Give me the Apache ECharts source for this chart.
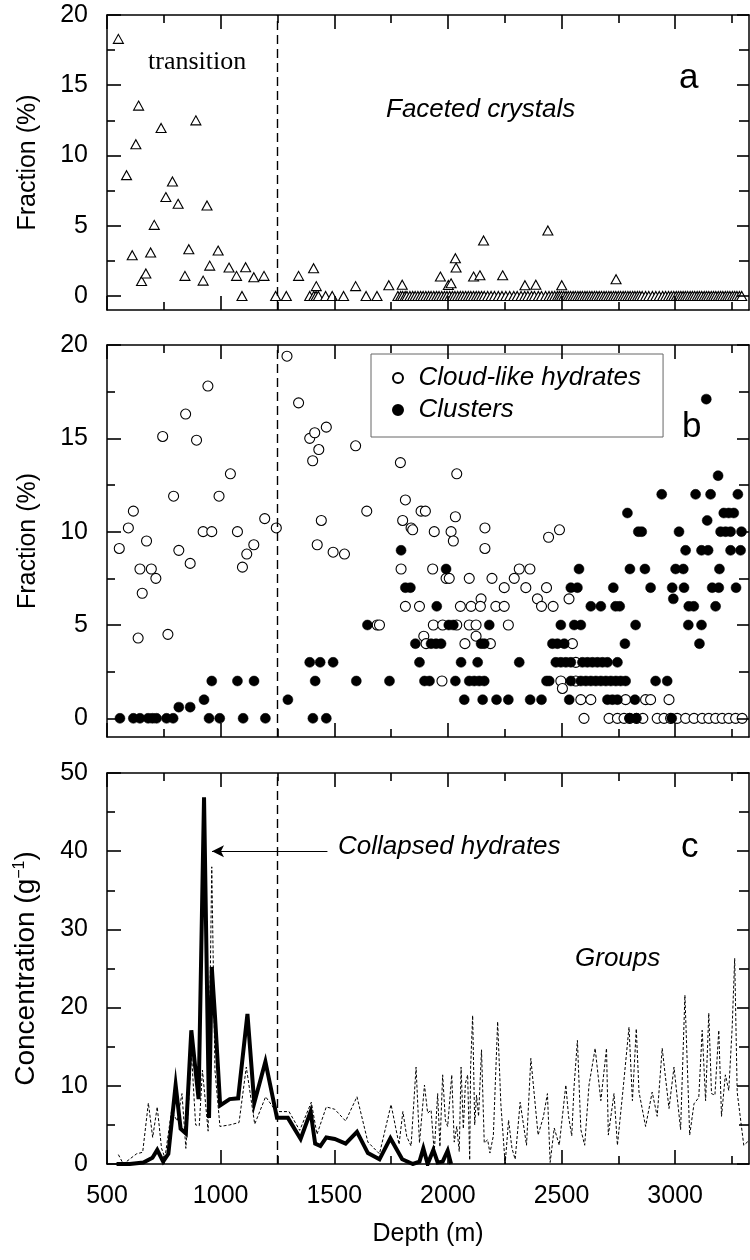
<!DOCTYPE html>
<html>
<head>
<meta charset="utf-8">
<script src="https://cdn.jsdelivr.net/npm/echarts@6/dist/echarts.min.js"></script>
<style>html,body{margin:0;padding:0;background:#fff}#chart{width:750px;height:1260px}</style>
</head>
<body>
<div id="chart"></div>
<script>
// ---------- DATA ----------
const xMajorTicks = [500, 1000, 1500, 2000, 2500, 3000];
const xMinorTicks = [750, 1250, 1750, 2250, 2750, 3250];
const fracMajorTicks = [0, 5, 10, 15, 20];
const fracMinorTicks = [2.5, 7.5, 12.5, 17.5];
const concMajorTicks = [0, 10, 20, 30, 40, 50];
const concMinorTicks = [5, 15, 25, 35, 45];
const transitionDepth = 1250;

// Panel a: faceted crystals (depth m, fraction %)
const facetedCrystals = [
  [550,18.3],[586,8.6],[611,2.9],[627,10.8],[639,13.55],[652,1.07],[671,1.6],[692,3.1],[708,5.06],
  [738,11.96],[759,7.04],[788,8.15],[813,6.56],[843,1.43],[860,3.33],[891,12.5],[923,1.09],[940,6.44],
  [952,2.16],[989,3.23],[1037,2.02],[1070,1.43],[1094,0],[1110,2.05],[1146,1.33],[1191,1.43],
  [1343,1.43],[1409,1.97],[1421,0.7],[1594,0.7],[1740,0.76],[1799,0.8],[1967,1.38],[2002,0.78],
  [2014,0.9],[2033,2.69],[2036,2.02],[2113,1.38],[2141,1.47],[2157,3.95],[2241,1.47],[2339,0.76],
  [2387,0.8],[2440,4.66],[2501,0.76],[2740,1.19]
];
const facetedZeroDepths = [
  1242,1289,1392,1410,1420,1430,1462,1491,1541,1640,1688,
  1780,1792,1801,1812,1820,1833,1845,1856,1868,1880,1891,1903,1915,1926,1938,1950,1961,1973,1985,1996,
  2008,2020,2031,2043,2055,2066,2078,2090,2101,2113,2125,2136,2148,2160,2175,2190,2205,2222,2238,2255,
  2272,2290,2305,2322,2338,2352,2368,2381,2398,2412,2430,2445,2458,2470,2482,2491,2500,2510,
  2520,2530,2540,2551,2561,2572,2582,2592,2603,2613,2624,2634,2645,2655,2666,2676,2687,2697,2708,2718,
  2729,2739,2750,2760,2771,2781,2792,2802,2813,2823,2834,2844,2855,2870,2884,2900,2915,2930,2945,2958,
  2971,2983,2994,3005,3015,3025,3035,3045,3055,3066,3076,3086,3097,3107,3117,3128,3138,3148,3159,3169,
  3179,3190,3200,3210,3221,3231,3241,3252,3262,3272,3283,3293
];

// Panel b: cloud-like hydrates (open circles)
const cloudLike = [
  [554,9.1],[594,10.2],[616,11.1],[637,4.3],[645,8.0],[655,6.7],[674,9.5],[695,8.0],[715,7.5],[745,15.1],
  [768,4.5],[793,11.9],[816,9.0],[846,16.3],[866,8.3],[894,14.9],[923,10.0],[944,17.8],[961,10.0],[993,11.9],
  [1043,13.1],[1074,10.0],[1096,8.1],[1115,8.8],[1146,9.3],[1194,10.7],[1245,10.2],[1292,19.4],[1343,16.9],
  [1392,15.0],[1405,13.8],[1414,15.3],[1425,9.3],[1432,14.4],[1443,10.6],[1465,15.6],[1495,8.9],[1545,8.8],
  [1594,14.6],[1643,11.1],[1689,5.0],
  [1791,13.7],[1801,10.6],[1813,11.7],[1838,10.2],[1845,10.1],[1882,11.1],[1901,11.1],[2033,10.8],[2039,13.1],
  [2014,10.0],[1940,10.0],[2024,9.5],[2163,10.2],[2163,9.1],[2443,9.7],[2491,10.1],
  [1794,8.0],[1933,8.0],[2314,8.0],[2361,8.0],
  [1992,7.5],[2006,7.5],[2094,7.5],[2194,7.5],[2292,7.5],
  [2248,7.0],[2343,7.0],[2434,7.0],
  [2146,6.4],[2394,6.4],[2533,6.4],
  [1813,6.0],[1875,6.0],[2055,6.0],[2102,6.0],[2143,6.0],[2211,6.0],[2248,6.0],[2412,6.0],[2463,6.0],
  [1699,5.0],[1936,5.0],[1977,5.0],[2039,5.0],[2094,5.0],[2124,5.0],[2266,5.0],
  [1894,4.4],[2124,4.4],
  [1904,4.0],[2075,4.0],[2187,4.0],[2548,4.0],[2563,3.0],
  [1974,2.0],[2497,2.0],[2563,2.0],[2504,1.6],
  [2585,1.0],[2629,1.0],[2782,1.0],[2870,1.0],[2892,1.0],[2973,1.0],
  [2599,0],[2709,0],[2746,0],[2775,0],[2800,0],[2830,0],[2858,0],[2921,0],[2951,0],[2980,0],[3009,0],
  [3046,0],[3083,0],[3119,0],[3148,0],[3178,0],[3207,0],[3236,0],[3266,0],[3295,0]
];
// Panel b: clusters (filled circles)
const clusters = [
  [557,0],[616,0],[645,0],[681,0],[700,0],[718,0],[762,0],[791,0],[816,0.6],[866,0.6],[927,1.0],[949,0],
  [961,2.0],[996,0],[1074,2.0],[1099,0],[1147,2.0],[1197,0],[1296,1.0],[1392,3.0],[1406,0],[1416,2.0],
  [1438,3.0],[1465,0],[1495,3.0],[1597,2.0],[1646,5.0],
  [1743,2.0],[1794,9.0],[1813,7.0],[1835,7.0],[1857,4.0],[1875,3.0],[1897,2.0],[1919,2.0],[1926,4.0],
  [1948,4.0],[1951,6.0],[1970,4.0],[1992,8.0],[2004,5.0],[2024,5.0],[2033,2.0],[2058,3.0],[2072,1.0],
  [2094,2.0],[2116,2.0],[2131,3.0],[2138,2.0],[2146,4.0],[2153,1.0],[2160,4.0],[2160,2.0],[2182,5.0],
  [2214,1.0],[2266,1.0],[2314,3.0],[2362,1.0],[2412,1.0],[2434,2.0],[2446,2.0],
  [2460,4],[2482,4],[2497,5],[2512,4],
  [2475,3],[2497,3],[2519,3],[2541,3],[2592,3],[2614,3],[2636,3],[2658,3],[2680,3],[2702,3],[2746,3],
  [2541,2],[2585,2],[2607,2],[2629,2],[2651,2],[2673,2],[2695,2],[2717,2],[2739,2],[2760,2],[2782,2],
  [2914,2],[2965,2],
  [2534,1],[2702,1],[2724,1],[2746,1],[2823,1],
  [2779,4],[3107,4],
  [2556,5],[2585,5],[2826,5],[3058,5],[3116,5],
  [2629,6],[2673,6],[2738,6],[2756,6],[3060,6],[3082,6],[3178,6],[2992,6.4],
  [2541,7],[2570,7],[2728,7],[2892,7],[2987,7],[3039,7],[3163,7],[3192,7],[3268,7],
  [2577,8],[2801,8],[2867,8],[3002,8],[3036,8],[3195,8],
  [3046,9],[3116,9],[3145,9],[3244,9],[3288,9],
  [2838,10],[2853,10],[3017,10],[3200,10],[3222,10],[3244,10],[3292,10],[3141,10.6],
  [2790,11],[3214,11],[3236,11],[3258,11],
  [2941,12],[3090,12],[3156,12],[3276,12],
  [3189,13],[3137,17.1],
  [2800,0],[2830,0],[2985,0]
];

// Panel c: collapsed hydrates (solid) and groups (dashed), concentration g^-1
const collapsedHydrates = [
  [542,0],[600,0],[660,0.2],[700,0.8],[721,1.8],[747,0.3],[770,1.3],[802,10.1],[824,4.5],[847,3.9],
  [871,17.1],[903,8.3],[927,46.9],[949,5.9],[961,25.2],[975,19],[998,7.5],[1040,8.3],[1077,8.4],
  [1118,19.2],[1148,7.8],[1197,13.1],[1248,5.9],[1296,5.9],[1352,3.2],[1396,6.7],[1416,2.6],[1439,2.3],
  [1465,3.4],[1502,3.2],[1550,2.6],[1600,4.1],[1648,1.4],[1699,0.6],[1747,3.3],[1799,0.6],[1846,0],
  [1875,0.3],[1892,2.0],[1911,0],[1936,1.8],[1955,0.2],[1977,0.3],[1999,1.7],[2014,0]
];
const groups = [
  [550,1.2],[572,0],[630,1.3],[657,1.5],[682,7.8],[701,3.4],[721,7.3],[740,2.0],[755,0.8],[784,6.8],
  [809,5.5],[830,9],[847,2.0],[872,14.0],[890,5],[906,4.9],[920,12],[945,4.2],[961,38.0],[975,12],
  [997,4.8],[1040,5.0],[1081,5.3],[1113,12.4],[1150,5.1],[1198,8.6],[1245,6.7],[1301,6.7],[1348,4.3],
  [1399,7.9],[1424,3.8],[1465,7.3],[1502,7.0],[1550,5.5],[1600,8.6],[1648,2.8],[1699,1.3],[1750,7.6],
  [1785,2.5],[1802,6.7],[1819,3.5],[1838,2.3],[1860,12.4],[1875,2.7],[1897,10.1],[1911,6.5],[1926,6.9],
  [1940,1.5],[1955,9.0],[1965,2.2],[1977,11.4],[1989,5.6],[1999,4.8],[2017,11.4],[2028,2.8],[2039,4.8],
  [2050,1.6],[2058,12.4],[2068,4.5],[2077,10.3],[2087,11.4],[2096,0.5],[2100,12.4],[2109,19.0],[2118,5],
  [2126,8.8],[2135,6.1],[2148,14.6],[2160,2.7],[2175,3.1],[2185,1.4],[2200,3.6],[2219,18.2],[2233,7.7],
  [2252,0],[2267,5.6],[2282,2],[2296,0.6],[2318,7.9],[2346,2.4],[2365,13.5],[2397,3.7],[2420,6],
  [2438,9.0],[2450,0.2],[2468,4.6],[2490,2.4],[2519,10.1],[2531,6.1],[2545,3.6],[2555,9.8],[2570,15.8],
  [2585,4.4],[2602,2.4],[2621,10.1],[2648,14.8],[2673,8.1],[2698,14.8],[2706,3.7],[2731,9.0],[2746,2.4],
  [2771,9.6],[2797,17.5],[2812,8.1],[2829,17.3],[2841,9.2],[2870,4.8],[2899,9.2],[2921,6.1],[2943,14.8],
  [2973,7.1],[2995,12.4],[3024,4.4],[3043,21.6],[3064,3.7],[3083,7.7],[3104,8.5],[3119,17.1],[3134,8.1],
  [3148,19.3],[3160,9],[3175,8.8],[3192,17.1],[3204,6.1],[3221,11.4],[3236,9.4],[3251,17.5],[3262,26.3],
  [3273,9.2],[3302,2.4],[3325,3]
];
const arrowFrom = [1470, 40];
const arrowTo = [962, 40];

// ---------- CHART ----------
const FONT = '"Liberation Sans", Arial, sans-serif';
const SERIF = '"Liberation Serif", "Times New Roman", serif';
const X_MIN = 500, X_MAX = 3325;
const LINE = {show: true, onZero: false, lineStyle: {color: '#000', width: 1.5}};
const plain = v => String(v);

const grids = [
  {left: 107, width: 642, top: 15, height: 295},
  {left: 107, width: 642, top: 345, height: 392},
  {left: 107, width: 642, top: 773, height: 391}
];

const xAxes = [], yAxes = [];
function addAxes(gi, yMin, yMax, yMaj, yName, nameSize, isBottom) {
  const baseX = {type: 'value', gridIndex: gi, min: X_MIN, max: X_MAX, splitLine: {show: false}, axisTick: {show: false}};
  xAxes.push(Object.assign({}, baseX, {position: 'bottom', axisLine: LINE,
    axisLabel: isBottom ? {show: true, customValues: xMajorTicks, formatter: plain, fontSize: 25, fontFamily: FONT, color: '#000', margin: 20} : {show: false},
    name: isBottom ? 'Depth (m)' : '', nameLocation: 'middle', nameGap: 58,
    nameTextStyle: {fontSize: 25, fontFamily: FONT, color: '#000'}}));
  xAxes.push(Object.assign({}, baseX, {position: 'top', axisLine: LINE, axisLabel: {show: false}}));
  const baseY = {type: 'value', gridIndex: gi, min: yMin, max: yMax, splitLine: {show: false}, axisTick: {show: false}};
  yAxes.push(Object.assign({}, baseY, {position: 'left', axisLine: LINE,
    axisLabel: {show: true, customValues: yMaj, formatter: plain, fontSize: 25, fontFamily: FONT, color: '#000', margin: 19},
    name: yName, nameLocation: 'middle', nameGap: 66,
    nameTextStyle: {fontSize: nameSize, fontFamily: FONT, color: '#000',
      rich: {sup: {fontSize: 16, fontFamily: FONT, color: '#000', padding: [0, 0, 13, 0]}}}}));
  yAxes.push(Object.assign({}, baseY, {position: 'right', axisLine: LINE, axisLabel: {show: false}}));
}
const panelY = [
  {min: -1, max: 20, major: fracMajorTicks, minor: fracMinorTicks},
  {min: -1, max: 20, major: fracMajorTicks, minor: fracMinorTicks},
  {min: 0, max: 50, major: concMajorTicks, minor: concMinorTicks}
];
addAxes(0, -1, 20, fracMajorTicks, 'Fraction (%)', 25, false);
addAxes(1, -1, 20, fracMajorTicks, 'Fraction (%)', 25, false);
addAxes(2, 0, 50, concMajorTicks, 'Concentration (g{sup|−1})', 28, true);

// Inward tick marks drawn as short marker-line segments (pixel lengths converted to data units)
const TICK_STYLE = {type: 'solid', color: '#000', width: 1.6};
function tickLines(gi) {
  const p = panelY[gi];
  const g = grids[gi];
  const yPerPx = (p.max - p.min) / g.height;
  const xPerPx = (X_MAX - X_MIN) / g.width;
  const seg = (a, b) => [{coord: a, lineStyle: TICK_STYLE}, {coord: b}];
  const out = [];
  xMajorTicks.forEach(v => {
    out.push(seg([v, p.min], [v, p.min + 14 * yPerPx]));
    out.push(seg([v, p.max], [v, p.max - 14 * yPerPx]));
  });
  xMinorTicks.forEach(v => {
    out.push(seg([v, p.min], [v, p.min + 8 * yPerPx]));
    out.push(seg([v, p.max], [v, p.max - 8 * yPerPx]));
  });
  p.major.forEach(v => {
    out.push(seg([X_MIN, v], [X_MIN + 14 * xPerPx, v]));
    out.push(seg([X_MAX, v], [X_MAX - 12 * xPerPx, v]));
  });
  p.minor.forEach(v => {
    out.push(seg([X_MIN, v], [X_MIN + 8 * xPerPx, v]));
    out.push(seg([X_MAX, v], [X_MAX - 10 * xPerPx, v]));
  });
  return out;
}
function frameMarks(gi) {
  return {
    silent: true, symbol: ['none', 'none'], label: {show: false}, animation: false,
    lineStyle: {type: [9, 5], color: '#000', width: 1.4},
    data: [{xAxis: transitionDepth}].concat(tickLines(gi))
  };
}

const openStyle = {color: '#fff', borderColor: '#000', borderWidth: 1.1, opacity: 1};
const filledStyle = {color: '#000', borderColor: '#000', borderWidth: 0.5, opacity: 1};

const facetedAll = facetedCrystals.concat(facetedZeroDepths.map(d => [d, 0]));

const series = [
  {name: 'Faceted crystals', type: 'scatter', xAxisIndex: 0, yAxisIndex: 0, symbol: 'triangle', symbolSize: [10, 9],
   itemStyle: openStyle, data: facetedAll, markLine: frameMarks(0), animation: false, z: 3},
  {name: 'Cloud-like hydrates', type: 'scatter', xAxisIndex: 2, yAxisIndex: 2, symbol: 'circle', symbolSize: 10,
   itemStyle: openStyle, data: cloudLike, markLine: frameMarks(1), animation: false, z: 3},
  {name: 'Clusters', type: 'scatter', xAxisIndex: 2, yAxisIndex: 2, symbol: 'circle', symbolSize: 10,
   itemStyle: filledStyle, data: clusters, animation: false, z: 3},
  {name: 'Groups', type: 'line', xAxisIndex: 4, yAxisIndex: 4, showSymbol: false, symbol: 'none',
   lineStyle: {color: '#000', width: 1, type: [3, 2]}, data: groups, animation: false, z: 3,
   markLine: {silent: true, label: {show: false}, symbolSize: [9, 12], animation: false,
     lineStyle: {type: 'solid', color: '#000', width: 1},
     data: [[{coord: arrowFrom, symbol: 'none'}, {coord: arrowTo, symbol: 'arrow'}]]}},
  {name: 'Collapsed hydrates', type: 'line', xAxisIndex: 4, yAxisIndex: 4, showSymbol: false, symbol: 'none',
   lineStyle: {color: '#000', width: 4, join: 'miter'}, data: collapsedHydrates, markLine: frameMarks(2), animation: false, z: 3}
];

function label(text, x, y, size, style, family) {
  return {type: 'text', x: x, y: y, style: {text: text, fontSize: size, fontStyle: style || 'normal',
    fontFamily: family || FONT, fill: '#000', verticalAlign: 'middle', align: 'left'}};
}

const option = {
  backgroundColor: '#fff',
  animation: false,
  grid: grids,
  xAxis: xAxes,
  yAxis: yAxes,
  legend: {
    data: ['Cloud-like hydrates', 'Clusters'], orient: 'vertical', left: 371, top: 354,
    padding: [11, 22, 14, 21], itemGap: 6, itemWidth: 31, itemHeight: 10,
    borderColor: '#666', borderWidth: 1, backgroundColor: '#fff',
    textStyle: {fontSize: 26, fontStyle: 'italic', fontFamily: FONT, color: '#000'}
  },
  graphic: [
    label('transition', 148, 62, 26, 'normal', SERIF),
    label('Faceted crystals', 386, 110, 26, 'italic'),
    label('a', 679, 78, 35),
    label('b', 682, 427, 35),
    label('c', 681, 847, 35),
    label('Collapsed hydrates', 338, 847, 26, 'italic'),
    label('Groups', 575, 959, 26, 'italic')
  ],
  series: series
};
const chart = echarts.init(document.getElementById('chart'), null, {renderer: 'canvas'});
chart.setOption(option);
</script>
</body>
</html>
